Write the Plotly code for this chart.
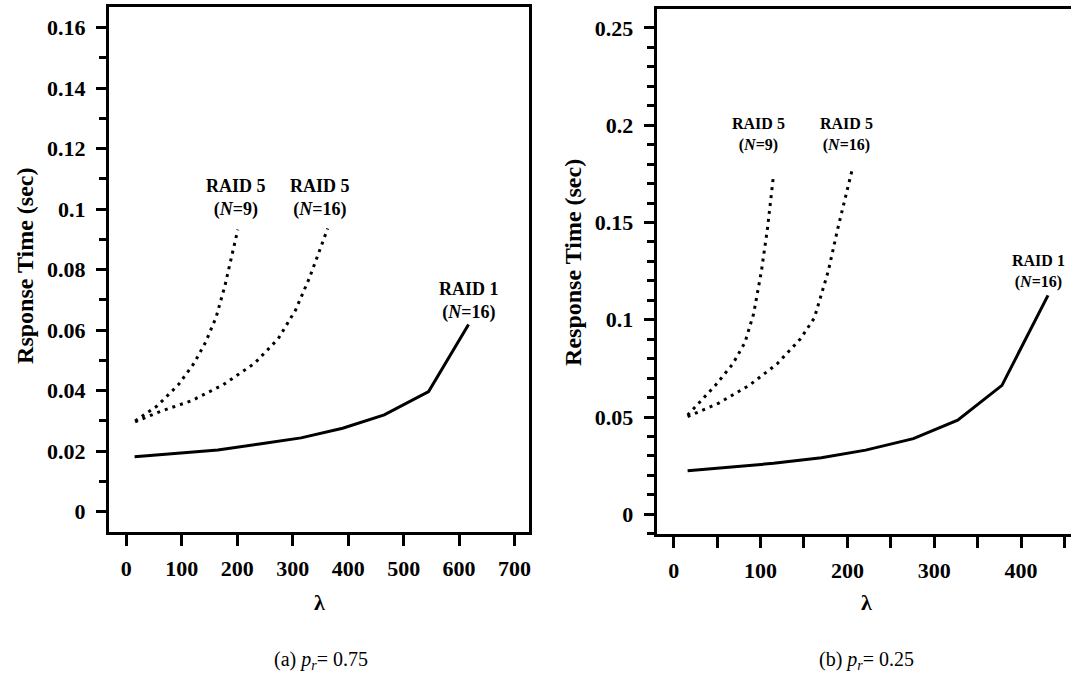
import plotly.graph_objects as go

# ---------------- data ----------------
# (a) p_r = 0.75
a_raid1_x = [15, 90, 165, 240, 315, 390, 465, 545, 617]
a_raid1_y = [0.0182, 0.0192, 0.0204, 0.0224, 0.0244, 0.0276, 0.0320, 0.0397, 0.0619]
a_r5n9_x = [16, 56, 94, 122, 143, 162, 178, 190, 201]
a_r5n9_y = [0.0300, 0.0350, 0.0420, 0.0490, 0.0560, 0.0643, 0.0748, 0.0842, 0.0932]
a_r5n16_x = [16, 62, 118, 175, 231, 274, 305, 330, 349, 363]
a_r5n16_y = [0.0297, 0.0332, 0.0367, 0.0420, 0.0490, 0.0572, 0.0666, 0.0772, 0.0866, 0.0936]

# (b) p_r = 0.25
b_raid1_x = [16, 65, 115, 170, 221, 276, 327, 378, 431]
b_raid1_y = [0.0224, 0.0242, 0.0262, 0.0291, 0.0330, 0.0389, 0.0484, 0.0663, 0.1125]
b_r5n9_x = [16, 29, 48, 68, 82, 92, 101, 108, 115]
b_r5n9_y = [0.0510, 0.0572, 0.0663, 0.0773, 0.0883, 0.1030, 0.1250, 0.1470, 0.1745]
b_r5n16_x = [16, 52, 87, 119, 146, 162, 178, 189, 206]
b_r5n16_y = [0.0502, 0.0572, 0.0663, 0.0773, 0.0902, 0.1010, 0.1250, 0.1470, 0.1780]

a_xticks = [0, 100, 200, 300, 400, 500, 600, 700]
a_yticks = [0, 0.02, 0.04, 0.06, 0.08, 0.1, 0.12, 0.14, 0.16]
a_yticktext = ["0", "0.02", "0.04", "0.06", "0.08", "0.1", "0.12", "0.14", "0.16"]
b_xticks = [0, 100, 200, 300, 400]
b_yticks = [0, 0.05, 0.1, 0.15, 0.2, 0.25]
b_yticktext = ["0", "0.05", "0.1", "0.15", "0.2", "0.25"]

# ---------------- styling ----------------
W, H = 1073, 674
SERIF = "Liberation Serif, Times New Roman, serif"
BLACK = "#000000"
DOT = "3px,5px"

fig = go.Figure()

def add_line(x, y, xa, ya, dotted):
    fig.add_trace(go.Scatter(
        x=x, y=y, mode="lines", xaxis=xa, yaxis=ya,
        line=dict(color=BLACK, width=3, dash=DOT if dotted else "solid"),
        showlegend=False, hoverinfo="skip"))

add_line(a_raid1_x, a_raid1_y, "x", "y", False)
add_line(a_r5n9_x, a_r5n9_y, "x", "y", True)
add_line(a_r5n16_x, a_r5n16_y, "x", "y", True)
add_line(b_raid1_x, b_raid1_y, "x2", "y2", False)
add_line(b_r5n9_x, b_r5n9_y, "x2", "y2", True)
add_line(b_r5n16_x, b_r5n16_y, "x2", "y2", True)

tickfont = dict(family=SERIF, size=22, color=BLACK, weight="bold")

def xaxis_cfg(domain, rng, tickvals, anchor, minor_dtick=None):
    cfg = dict(domain=domain, range=rng, tickvals=tickvals, anchor=anchor,
               ticktext=[str(v) for v in tickvals],
               showgrid=False, zeroline=False, showline=True, linecolor=BLACK,
               linewidth=3, mirror=True, ticks="outside", ticklen=11,
               tickwidth=3, tickcolor=BLACK, tickfont=tickfont,
               ticklabelstandoff=4, fixedrange=True)
    if minor_dtick:
        cfg["minor"] = dict(dtick=minor_dtick, tick0=0, ticks="outside",
                            ticklen=11, tickwidth=3, tickcolor=BLACK, showgrid=False)
    return cfg

def yaxis_cfg(domain, rng, tickvals, ticktext, minor_dtick, anchor, mirror):
    return dict(domain=domain, range=rng, tickvals=tickvals, ticktext=ticktext,
                anchor=anchor,
                showgrid=False, zeroline=False, showline=True, linecolor=BLACK,
                linewidth=3, mirror=mirror, ticks="outside", ticklen=10,
                tickwidth=3, tickcolor=BLACK, tickfont=tickfont,
                ticklabelstandoff=6, fixedrange=True,
                minor=dict(dtick=minor_dtick, tick0=0, ticks="outside",
                           ticklen=7, tickwidth=3, tickcolor=BLACK, showgrid=False))

fig.update_layout(
    width=W, height=H, margin=dict(l=0, r=0, t=0, b=0),
    paper_bgcolor="white", plot_bgcolor="white",
    xaxis=xaxis_cfg([109 / W, 530 / W], [-31.5, 726], a_xticks, "y"),
    yaxis=yaxis_cfg([1 - 532 / H, 1 - 7 / H], [-0.0067, 0.1668],
                    a_yticks, a_yticktext, 0.01, "x", True),
    xaxis2=xaxis_cfg([658 / W, 1.0], [-19.5, 457.5], b_xticks, "y2", 50),
    yaxis2=yaxis_cfg([1 - 534 / H, 1 - 9 / H], [-0.0101, 0.2597],
                     b_yticks, b_yticktext, 0.01, "x2", False),
)

ann = []

def label(text, x, y, xref, yref, size):
    ann.append(dict(text=text, x=x, y=y, xref=xref, yref=yref, showarrow=False,
                    xanchor="center", yanchor="middle", align="center",
                    font=dict(family=SERIF, size=size, color=BLACK, weight="bold")))

# curve labels (data coordinates, centre of the two-line block)
label("RAID 5<br>(<i>N</i>=9)", 198, 0.1038, "x", "y", 18)
label("RAID 5<br>(<i>N</i>=16)", 349, 0.1038, "x", "y", 18)
label("RAID 1<br>(<i>N</i>=16)", 617, 0.0698, "x", "y", 18)

label("RAID 5<br>(<i>N</i>=9)", 98, 0.1950, "x2", "y2", 16)
label("RAID 5<br>(<i>N</i>=16)", 199, 0.1950, "x2", "y2", 16)
label("RAID 1<br>(<i>N</i>=16)", 420, 0.1250, "x2", "y2", 16)

def ptext(text, xpx, ypx, size, bold=True, angle=0):
    ann.append(dict(text=text, x=xpx / W, y=1 - ypx / H, xref="paper", yref="paper",
                    showarrow=False, xanchor="center", yanchor="middle",
                    textangle=angle,
                    font=dict(family=SERIF, size=size, color=BLACK,
                              weight="bold" if bold else "normal")))

# axis titles
ptext("Rsponse Time (sec)", 25, 266, 24, angle=-90)
ptext("Response Time (sec)", 574, 262, 24, angle=-90)
ptext("λ", 320, 602, 22)
ptext("λ", 868, 602, 22)
# panel captions
ptext("(a) <i>p<sub>r</sub></i>= 0.75", 322, 660, 20, bold=False)
ptext("(b) <i>p<sub>r</sub></i>= 0.25", 868, 660, 20, bold=False)

fig.update_layout(annotations=ann)

fig.write_html("out.html")
